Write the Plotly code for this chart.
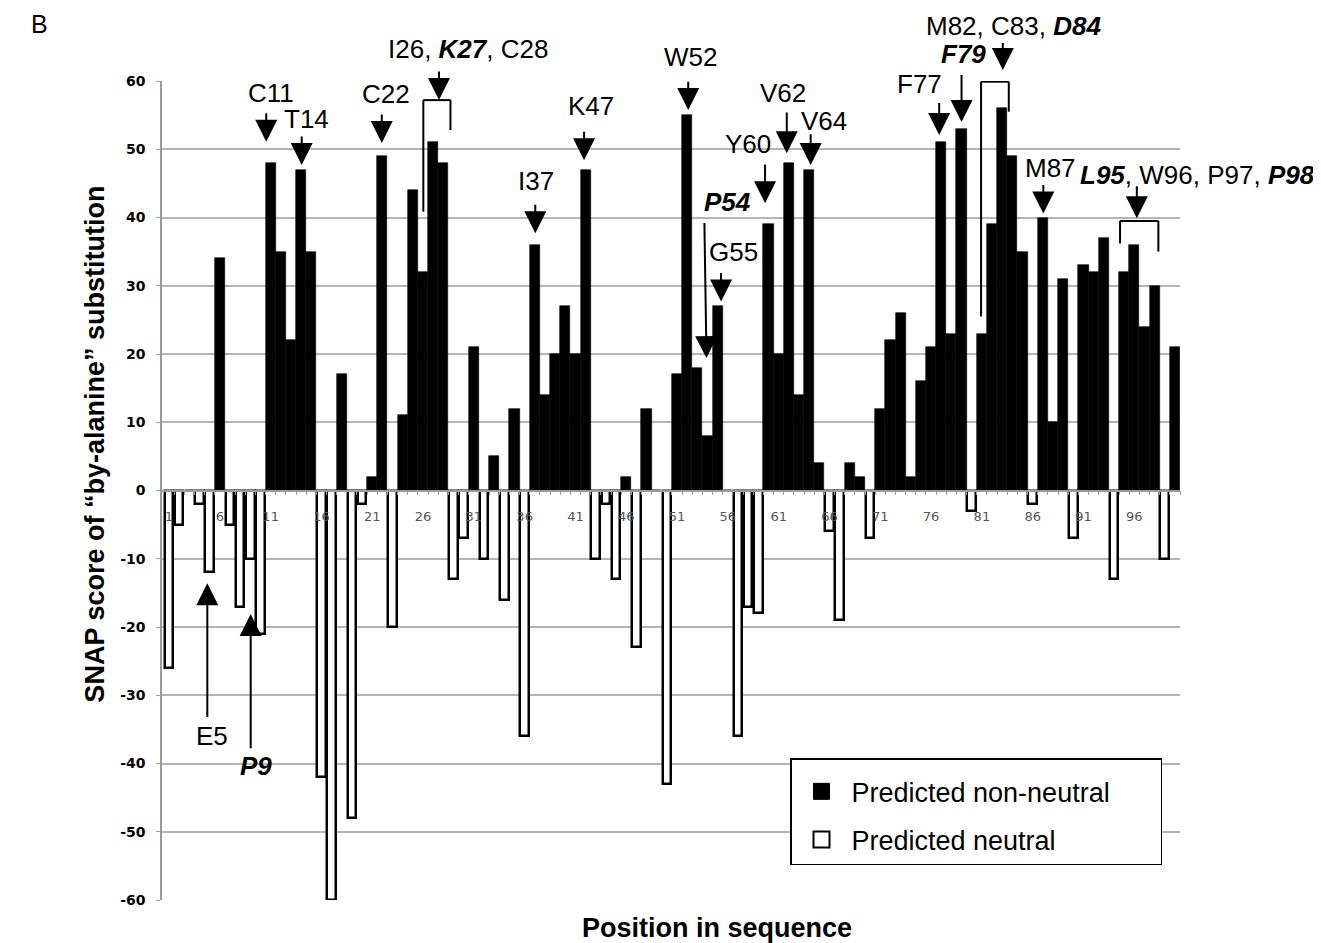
import plotly.graph_objects as go

# ---------------- data ----------------
positions = list(range(1, 101))
snap_scores = [
    -26, -5, 0, -2, -12, 34, -5, -17, -10, -21,
    48, 35, 22, 47, 35, -42, -60, 17, -48, -2,
    2, 49, -20, 11, 44, 32, 51, 48, -13, -7,
    21, -10, 5, -16, 12, -36, 36, 14, 20, 27,
    20, 47, -10, -2, -13, 2, -23, 12, 0, -43,
    17, 55, 18, 8, 27, 0, -36, -17, -18, 39,
    20, 48, 14, 47, 4, -6, -19, 4, 2, -7,
    12, 22, 26, 2, 16, 21, 51, 23, 53, -3,
    23, 39, 56, 49, 35, -2, 40, 10, 31, -7,
    33, 32, 37, -13, 32, 36, 24, 30, -10, 21,
]
series_names = ["Predicted non-neutral", "Predicted neutral"]
y_ticks = [60, 50, 40, 30, 20, 10, 0, -10, -20, -30, -40, -50, -60]

# residue labels: (text, x, y) in data units
labels = [
    ("C11", 11.0, 58.3),
    ("T14", 14.5, 54.4),
    ("C22", 22.4, 58.1),
    ("I26, <b><i>K27</i></b>, C28", 30.4, 64.7),
    ("I37", 37.1, 45.3),
    ("K47", 42.5, 56.3),
    ("W52", 52.3, 63.5),
    ("<b><i>P54</i></b>", 56.0, 42.3),
    ("G55", 56.6, 35.0),
    ("Y60", 58.0, 50.8),
    ("V62", 61.4, 58.3),
    ("V64", 65.5, 54.1),
    ("F77", 74.9, 59.6),
    ("<b><i>F79</i></b>", 79.2, 63.9),
    ("M82, C83, <b><i>D84</i></b>", 84.1, 68.1),
    ("M87", 87.8, 47.2),
    ("<b><i>L95</i></b>, W96, P97, <b><i>P98</i></b>", 102.2, 46.2),
    ("E5", 5.2, -36.0),
    ("<b><i>P9</i></b>", 9.6, -40.4),
]

# arrows: (tail x, tail y, tip x, tip y) in data units
arrows = [
    (10.57, 55.5, 10.57, 51.1),
    (14.06, 52.1, 14.06, 47.7),
    (21.94, 55.3, 21.94, 50.9),
    (27.57, 61.6, 27.57, 57.2),
    (37.05, 42.1, 37.05, 37.7),
    (41.85, 52.8, 41.85, 48.4),
    (52.10, 60.1, 52.10, 55.75),
    (53.69, 39.4, 53.90, 19.4),
    (55.33, 32.1, 55.33, 27.7),
    (59.66, 48.0, 59.66, 42.1),
    (61.80, 55.6, 61.80, 49.4),
    (64.15, 52.4, 64.15, 47.7),
    (76.80, 57.0, 76.80, 52.1),
    (79.00, 61.1, 79.00, 54.0),
    (83.06, 65.8, 83.06, 61.6),
    (87.05, 45.0, 87.05, 40.6),
    (96.25, 44.8, 96.25, 39.9),
    (4.77, -33.4, 4.77, -13.6),
    (9.04, -38.0, 9.04, -18.1),
]

# brackets: (left x, right x, top y, left bottom y, right bottom y)
brackets = [
    (26.03, 28.70, 57.2, 40.85, 52.8),
    (80.92, 83.65, 59.9, 25.5, 55.5),
    (94.60, 98.37, 39.5, 36.2, 35.0),
]

X_RANGE = [0.31, 100.5]
Y_RANGE = [-60, 60]

# ---------------- figure ----------------
non_neutral = [v if v > 0 else None for v in snap_scores]
neutral = [v if v <= 0 else None for v in snap_scores]

fig = go.Figure()
fig.add_trace(go.Bar(
    x=positions, y=neutral, width=0.85, name=series_names[1],
    marker=dict(color="white", line=dict(color="black", width=2.5)),
    showlegend=False,
))
fig.add_trace(go.Bar(
    x=positions, y=non_neutral, width=1.0, name=series_names[0],
    marker=dict(color="black", line=dict(color="black", width=0.6)),
    showlegend=False,
))
# legend entries
fig.add_trace(go.Scatter(
    x=[None], y=[None], mode="markers",
    name=series_names[0] + "\u00a0" * 6, legendgroup="a",
    marker=dict(symbol="square", size=16, color="black", line=dict(color="black", width=1)),
))
fig.add_trace(go.Scatter(
    x=[None], y=[None], mode="markers", name=series_names[1], legendgroup="b",
    marker=dict(symbol="square", size=16, color="white", line=dict(color="black", width=2)),
))


def to_paper(x, y):
    return ((x - X_RANGE[0]) / (X_RANGE[1] - X_RANGE[0]),
            (y - Y_RANGE[0]) / (Y_RANGE[1] - Y_RANGE[0]))


annotations = []
for text, x, y in labels:
    px, py = to_paper(x, y)
    annotations.append(dict(
        x=px, y=py, xref="paper", yref="paper", text=text, showarrow=False,
        xanchor="center", yanchor="middle",
        font=dict(family="Liberation Sans", size=26, color="black"),
    ))

PX_PER_Y = 819 / (Y_RANGE[1] - Y_RANGE[0])
PX_PER_X = 1018 / (X_RANGE[1] - X_RANGE[0])
ARROW = dict(text="", showarrow=True, arrowhead=2, arrowsize=2.2, arrowwidth=2,
             arrowcolor="black", standoff=0)
for tx, ty, hx, hy in arrows:
    if Y_RANGE[0] <= hy <= Y_RANGE[1]:
        annotations.append(dict(
            x=hx, y=hy, ax=tx, ay=ty, xref="x", yref="y", axref="x", ayref="y", **ARROW))
    else:
        px, py = to_paper(hx, hy)
        annotations.append(dict(
            x=hx, y=py, xref="x", yref="paper",
            ax=(tx - hx) * PX_PER_X, ay=-(ty - hy) * PX_PER_Y,
            axref="pixel", ayref="pixel", **ARROW))

# titles and panel letter
annotations.append(dict(
    x=-0.066, y=0.557, xref="paper", yref="paper", textangle=-90,
    text="<b>SNAP score of \u201cby-alanine\u201d substitution</b>", showarrow=False,
    xanchor="center", yanchor="middle",
    font=dict(family="Liberation Sans", size=27, color="black"),
))
annotations.append(dict(
    x=0.545, y=-0.034, xref="paper", yref="paper",
    text="<b>Position in sequence</b>", showarrow=False,
    xanchor="center", yanchor="middle",
    font=dict(family="Liberation Sans", size=27, color="black"),
))
annotations.append(dict(
    x=-0.12, y=1 + 72 / 819, xref="paper", yref="paper", text="B", showarrow=False,
    xanchor="center", yanchor="top", borderpad=0,
    font=dict(family="Liberation Sans", size=25, color="black"),
))

shapes = []
for xl, xr, yt, ybl, ybr in brackets:
    line = dict(color="black", width=2)
    shapes.append(dict(type="line", xref="x", yref="y", x0=xl, x1=xr, y0=yt, y1=yt, line=line))
    shapes.append(dict(type="line", xref="x", yref="y", x0=xl, x1=xl, y0=yt, y1=ybl, line=line))
    shapes.append(dict(type="line", xref="x", yref="y", x0=xr, x1=xr, y0=yt, y1=ybr, line=line))

# the page body adds an 8px offset, so the figure is 8px smaller on each axis
fig.update_layout(
    width=1313, height=935,
    margin=dict(l=154, r=141, t=73, b=43),
    paper_bgcolor="white", plot_bgcolor="white",
    barmode="overlay", bargap=0,
    annotations=annotations, shapes=shapes,
    legend=dict(
        x=(790 - 162) / 1018, y=(900 - 758) / 819, xanchor="left", yanchor="top",
        bgcolor="white", bordercolor="black", borderwidth=1.5,
        font=dict(family="Liberation Sans", size=27, color="black"),
        itemwidth=50, tracegroupgap=10,
        title=dict(text="\u00a0", font=dict(size=6)),
    ),
    xaxis=dict(
        range=X_RANGE, anchor="free", position=0.5,
        showgrid=False, zeroline=False,
        showline=True, linecolor="#9a9a9a", linewidth=1.5,
        tickmode="linear", tick0=1, dtick=5, ticks="",
        ticklabelstandoff=14,
        tickfont=dict(family="DejaVu Sans", size=13, color="#555555"),
        minor=dict(ticks="outside", ticklen=4, tickcolor="#9a9a9a", tickwidth=1,
                   tick0=0.5, dtick=1, showgrid=False),
    ),
    yaxis=dict(
        range=Y_RANGE, tickmode="array", tickvals=y_ticks,
        ticktext=[str(v) for v in y_ticks],
        showgrid=True, gridcolor="#b4b4b4", gridwidth=1.5,
        zeroline=True, zerolinecolor="#9a9a9a", zerolinewidth=1.5,
        showline=True, linecolor="#9a9a9a", linewidth=1.5,
        ticks="outside", ticklen=4, tickcolor="#9a9a9a",
        ticklabelstandoff=8,
        tickfont=dict(family="DejaVu Sans", size=14, color="black", weight="bold"),
    ),
)

fig.write_html("out.html")
